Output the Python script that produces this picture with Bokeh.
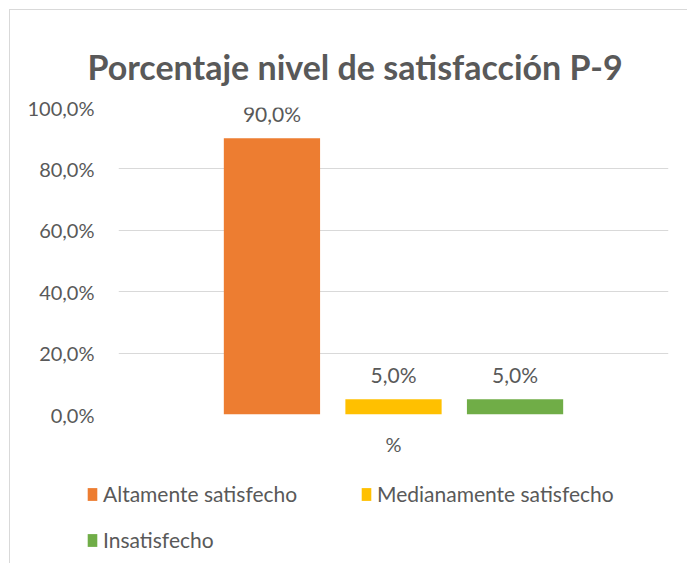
from bokeh.plotting import figure
from bokeh.layouts import column
from bokeh.models import (ColumnDataSource, FactorRange, Range1d, Legend, LegendItem,
                          CustomJSTickFormatter, FixedTicker, Label)
from bokeh.transform import dodge
from bokeh.embed import file_html
from bokeh.resources import INLINE

# ---- data ----
categories = ["%"]
series = ["Altamente satisfecho", "Medianamente satisfecho", "Insatisfecho"]
values = [90.0, 5.0, 5.0]
colors = ["#ED7D31", "#FFC000", "#70AD47"]
y_ticks = [0, 20, 40, 60, 80, 100]
title_text = "Porcentaje nivel de satisfacción P-9"

FONT = "Lato"
GRAY = "#595959"


def strip(h, xr, yr):
    f = figure(width=677, height=h, x_range=xr, y_range=yr, title=None,
               output_backend="svg", toolbar_location=None,
               min_border=0, min_border_left=0, min_border_right=0,
               min_border_top=0, min_border_bottom=0)
    f.frame_align = False
    f.axis.visible = False
    f.grid.visible = False
    f.outline_line_color = None
    f.background_fill_color = "white"
    f.border_fill_color = "white"
    return f


# ---- title strip ----
t = strip(80, Range1d(0, 1), Range1d(0, 1))
t.add_layout(Label(x=344.5, y=24, x_units="screen", y_units="screen", text=title_text,
                   text_align="center", text_baseline="alphabetic",
                   text_font=FONT, text_font_size="34px", text_font_style="bold",
                   text_color=GRAY))

# ---- chart ----
p = figure(width=677, height=380, x_range=FactorRange(*categories),
           y_range=Range1d(0, 100), title=None, output_backend="svg",
           toolbar_location=None,
           min_border_left=108, min_border_right=19, min_border_top=17,
           min_border_bottom=56)
p.frame_align = False
p.outline_line_color = None
p.background_fill_color = "white"
p.border_fill_color = "white"

n = len(series)
step = 0.221
for i, (name, v, c) in enumerate(zip(series, values, colors)):
    src = ColumnDataSource(dict(x=categories, y=[v],
                                label=[f"{v:.1f}".replace(".", ",") + "%"]))
    off = (i - (n - 1) / 2) * step
    p.vbar(x=dodge("x", off, range=p.x_range), top="y", width=0.175,
           source=src, fill_color=c, line_color=None)
    p.text(x=dodge("x", off, range=p.x_range), y="y", text="label", source=src,
           text_align="center", text_baseline="alphabetic", y_offset=-25,
           text_font_size="21px", text_color=GRAY, text_font={"value": FONT})

p.ygrid.grid_line_color = "#d9d9d9"
p.ygrid.grid_line_width = 1
p.xgrid.grid_line_color = None
p.yaxis.ticker = FixedTicker(ticks=y_ticks)
p.yaxis.formatter = CustomJSTickFormatter(
    code="return tick.toFixed(1).replace('.', ',') + '%';")
for ax in (p.xaxis[0], p.yaxis[0]):
    ax.axis_line_color = None
    ax.major_tick_line_color = None
    ax.minor_tick_line_color = None
    ax.major_tick_out = 0
    ax.major_tick_in = 0
    ax.major_label_text_font = FONT
    ax.major_label_text_font_size = "20px"
    ax.major_label_text_color = GRAY
p.yaxis.major_label_standoff = 24
p.xaxis.major_label_standoff = 17

# ---- legend strip (its bars sit below the visible range) ----
q = strip(93, FactorRange(*categories), Range1d(1000, 1001))
items = []
for name, v, c in zip(series, values, colors):
    r = q.vbar(x=categories, top=[v], width=0.1, fill_color=c, line_color=None)
    items.append(LegendItem(label=name, renderers=[r]))

legend = Legend(items=items, location=(76, 11), orientation="horizontal", ncols=2,
                glyph_width=12, glyph_height=16, label_standoff=5, label_width=236,
                label_height=20, spacing=21, padding=0, margin=0,
                label_text_font=FONT, label_text_font_size="21px",
                label_text_color=GRAY, border_line_color=None,
                background_fill_alpha=0)
q.add_layout(legend, "center")

layout = column(t, p, q, spacing=0)
layout.styles = {"border-left": "1px solid #d9d9d9", "border-top": "1px solid #d9d9d9",
                 "margin-left": "9px", "margin-top": "9px"}

open("out.html", "w").write(file_html(layout, INLINE))
